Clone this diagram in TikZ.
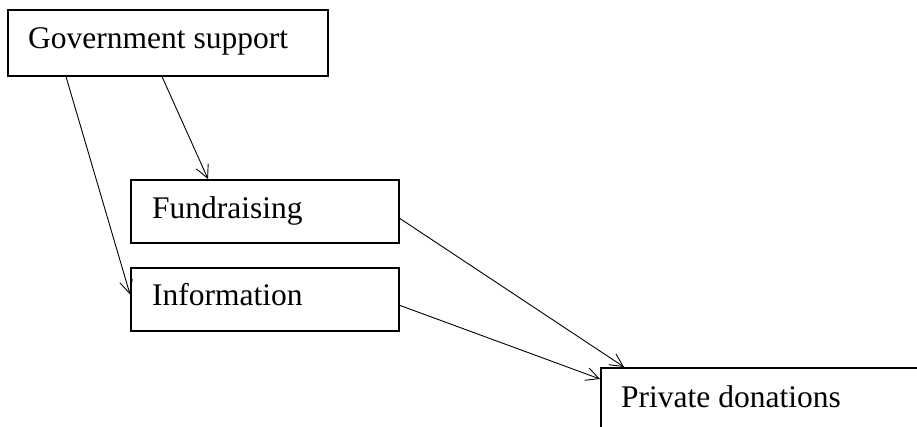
\documentclass[tikz,border=0pt]{standalone}
\usepackage{fontspec}
\setmainfont{Liberation Serif}
\usetikzlibrary{arrows.meta,calc}
\begin{document}
\begin{tikzpicture}[x=1pt,y=-1pt,
  box/.style={draw,line width=1.6pt,rectangle,anchor=north west,inner sep=0pt},
  lbl/.style={anchor=base west,inner sep=0pt,font=\fontsize{31.5}{36}\selectfont},
  link/.style={line width=0.9pt,-{Straight Barb[length=13pt,width=13pt,line width=0.9pt]}}]
\useasboundingbox (0,0) rectangle (917,426);
\clip (0,0) rectangle (917,426);
% boxes
\node[box,minimum width=320,minimum height=66] (gov) at (7,9) {};
\node[box,minimum width=268,minimum height=63] (fund) at (130,179) {};
\node[box,minimum width=268,minimum height=63] (info) at (130,267) {};
\node[box,minimum width=380,minimum height=100] (pd) at (600,367) {};
% labels
\node[lbl] (govt) at (28,48) {Government support};
\node[lbl] (fundt) at (152,218) {Fundraising};
\node[lbl] (infot) at (152,305) {Information};
\node[lbl] (pdt) at (621,407) {Private donations};
% connectors
\draw[link] ($(gov.south west)+(59,0)$) -- ($(info.west)+(0,-5)$);
\draw[link] ($(gov.south west)+(155,0)$) -- ($(fund.north west)+(78,0)$);
\draw[link] ($(fund.east)+(0,7)$) -- ($(pd.north west)+(24,0)$);
\draw[link] ($(info.east)+(0,6)$) -- ($(pd.north west)+(0,12)$);
\end{tikzpicture}
\end{document}
